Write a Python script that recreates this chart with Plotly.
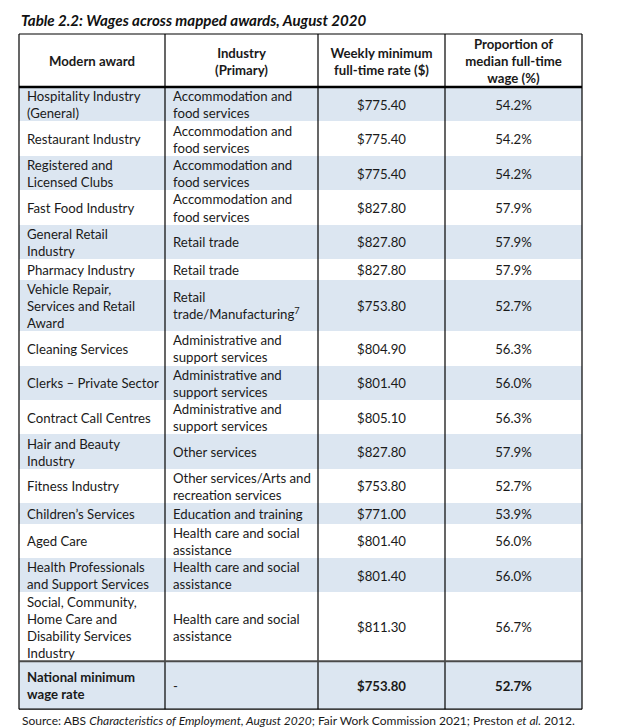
import plotly.graph_objects as go

# ---------------- data ----------------
title_text = "Table 2.2: Wages across mapped awards, August 2020"
headers = [
    "Modern award",
    "Industry<br>(Primary)",
    "Weekly minimum<br>full-time rate ($)",
    "Proportion of<br>median full-time<br>wage (%)",
]
awards = [
    "Hospitality Industry<br>(General)",
    "Restaurant Industry",
    "Registered and<br>Licensed Clubs",
    "Fast Food Industry",
    "General Retail<br>Industry",
    "Pharmacy Industry",
    "Vehicle Repair,<br>Services and Retail<br>Award",
    "Cleaning Services",
    "Clerks – Private Sector",
    "Contract Call Centres",
    "Hair and Beauty<br>Industry",
    "Fitness Industry",
    "Children’s Services",
    "Aged Care",
    "Health Professionals<br>and Support Services",
    "Social, Community,<br>Home Care and<br>Disability Services<br>Industry",
]
industries = [
    "Accommodation and<br>food services",
    "Accommodation and<br>food services",
    "Accommodation and<br>food services",
    "Accommodation and<br>food services",
    "Retail trade",
    "Retail trade",
    "Retail<br>trade/Manufacturing<sup>7</sup>",
    "Administrative and<br>support services",
    "Administrative and<br>support services",
    "Administrative and<br>support services",
    "Other services",
    "Other services/Arts and<br>recreation services",
    "Education and training",
    "Health care and social<br>assistance",
    "Health care and social<br>assistance",
    "Health care and social<br>assistance",
]
weekly_rate = [775.40, 775.40, 775.40, 827.80, 827.80, 827.80, 753.80, 804.90,
               801.40, 805.10, 827.80, 753.80, 771.00, 801.40, 801.40, 811.30]
proportion = [54.2, 54.2, 54.2, 57.9, 57.9, 57.9, 52.7, 56.3,
              56.0, 56.3, 57.9, 52.7, 53.9, 56.0, 56.0, 56.7]
total_label = "National minimum<br>wage rate"
total_industry = "-"
total_rate = 753.80
total_prop = 52.7
source_text = ("Source: ABS <i>Characteristics of Employment, August 2020</i>; "
               "Fair Work Commission 2021; Preston <i>et al.</i> 2012.")

# ---------------- layout / style constants ----------------
W, H = 624, 728
COL_EDGES = [19, 165, 318, 445, 582]
TABLE_TOP = 34
HEADER_H = 53
LINE_H = 17.2
MIN_ROW_H = 20.5
TOTAL_ROW_H = 48
PAD_X = 8
TEXT_DY = 2.3
FONT = "Lato"
FS = 13.2
TXT = "#1a1a1a"
SHADE = "#DCE6F1"

# ---------------- row geometry from text ----------------
def nlines(s):
    return s.count("<br>") + 1

row_heights = [max(MIN_ROW_H, LINE_H * max(nlines(a), nlines(i)))
               for a, i in zip(awards, industries)]
row_heights.append(TOTAL_ROW_H)

tops = []
y = TABLE_TOP + HEADER_H
for h in row_heights:
    tops.append(y)
    y += h
table_bottom = y
centers = [t + h / 2 for t, h in zip(tops, row_heights)]
text_y = [c + TEXT_DY for c in centers]
n_rows = len(row_heights)
fills = [SHADE if k % 2 == 0 else "white" for k in range(n_rows)]

col_left = [COL_EDGES[0] + PAD_X, COL_EDGES[1] + PAD_X]
col_mid = [(COL_EDGES[k] + COL_EDGES[k + 1]) / 2 for k in range(4)]

fig = go.Figure()

# row shading
fig.add_trace(go.Bar(
    orientation="h",
    y=centers,
    x=[COL_EDGES[-1] - COL_EDGES[0]] * n_rows,
    base=[COL_EDGES[0]] * n_rows,
    width=row_heights,
    marker=dict(color=fills, line=dict(width=0)),
    hoverinfo="skip",
    showlegend=False,
))

font = dict(family=FONT, size=FS, color=TXT)

# header
header_y = TABLE_TOP + HEADER_H / 2 + TEXT_DY
fig.add_trace(go.Scatter(
    x=col_mid, y=[header_y] * 4, mode="text",
    text=["<b>%s</b>" % h for h in headers],
    textposition="middle center", textfont=font,
    hoverinfo="skip", showlegend=False,
))

col1 = awards + ["<b>%s</b>" % total_label]
col2 = industries + [total_industry]
col3 = ["$%.2f" % v for v in weekly_rate] + ["<b>$%.2f</b>" % total_rate]
col4 = ["%.1f%%" % v for v in proportion] + ["<b>%.1f%%</b>" % total_prop]

fig.add_trace(go.Scatter(
    x=[col_left[0]] * n_rows, y=text_y, mode="text", text=col1,
    textposition="middle right", textfont=font,
    hoverinfo="skip", showlegend=False,
))
fig.add_trace(go.Scatter(
    x=[col_left[1]] * n_rows, y=text_y, mode="text", text=col2,
    textposition="middle right", textfont=font,
    hoverinfo="skip", showlegend=False,
))
fig.add_trace(go.Scatter(
    x=[col_mid[2]] * n_rows, y=text_y, mode="text", text=col3,
    textposition="middle center", textfont=font,
    hoverinfo="skip", showlegend=False,
))
fig.add_trace(go.Scatter(
    x=[col_mid[3]] * n_rows, y=text_y, mode="text", text=col4,
    textposition="middle center", textfont=font,
    hoverinfo="skip", showlegend=False,
))

# grid lines
shapes = []
for xe in COL_EDGES:
    shapes.append(dict(type="line", xref="x", yref="y", x0=xe, x1=xe,
                       y0=TABLE_TOP, y1=table_bottom,
                       line=dict(color="black", width=1.2)))
shapes.append(dict(type="line", xref="x", yref="y", x0=COL_EDGES[0], x1=COL_EDGES[-1],
                   y0=TABLE_TOP, y1=TABLE_TOP, line=dict(color="black", width=1.2)))
shapes.append(dict(type="line", xref="x", yref="y", x0=COL_EDGES[0], x1=COL_EDGES[-1],
                   y0=TABLE_TOP + HEADER_H, y1=TABLE_TOP + HEADER_H,
                   line=dict(color="black", width=2.5)))
shapes.append(dict(type="line", xref="x", yref="y", x0=COL_EDGES[0], x1=COL_EDGES[-1],
                   y0=tops[-1], y1=tops[-1], line=dict(color="#4a4a4a", width=2)))
shapes.append(dict(type="line", xref="x", yref="y", x0=COL_EDGES[0], x1=COL_EDGES[-1],
                   y0=table_bottom, y1=table_bottom, line=dict(color="black", width=1.2)))

annotations = [
    dict(xref="x", yref="y", x=COL_EDGES[0], y=20, xanchor="left", yanchor="middle",
         text="<b><i>%s</i></b>" % title_text, showarrow=False,
         font=dict(family=FONT, size=15.1, color="#111")),
    dict(xref="x", yref="y", x=COL_EDGES[0] + 1, y=720, xanchor="left", yanchor="middle",
         text=source_text, showarrow=False,
         font=dict(family=FONT, size=12, color=TXT)),
]

fig.update_layout(
    width=W, height=H, autosize=False,
    margin=dict(l=0, r=0, t=0, b=0, pad=0),
    paper_bgcolor="white", plot_bgcolor="white",
    xaxis=dict(range=[0, W], visible=False, fixedrange=True),
    yaxis=dict(range=[H, 0], visible=False, fixedrange=True),
    shapes=shapes, annotations=annotations,
    showlegend=False, bargap=0,
)

fig.write_html(
    "out.html",
    config={"displayModeBar": False},
    post_script="document.body.style.margin='0';document.body.style.overflow='hidden';",
)
